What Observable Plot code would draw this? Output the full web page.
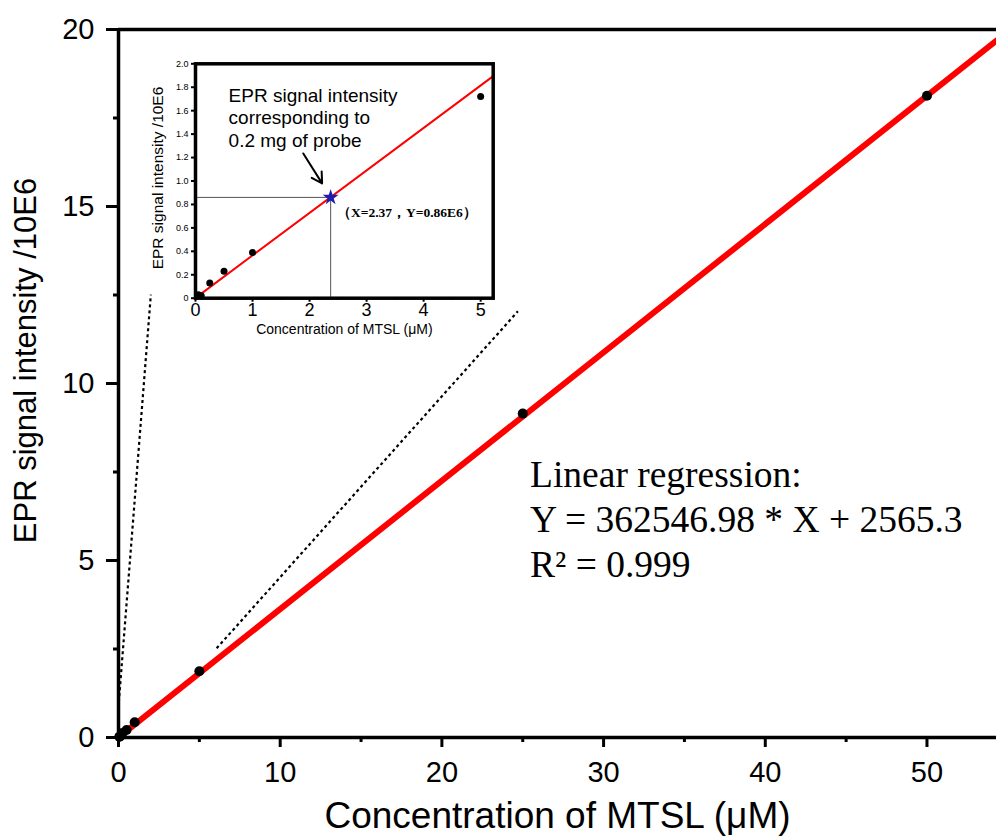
<!DOCTYPE html>
<html><head><meta charset="utf-8">
<script src="https://cdn.jsdelivr.net/npm/d3@7"></script>
<script src="https://cdn.jsdelivr.net/npm/@observablehq/plot@0.6"></script>
<style>
body{margin:0;background:#fff;}
#wrap{position:relative;width:996px;height:837px;overflow:hidden;background:#fff;}
#main{position:absolute;left:0;top:0;}
#inset{position:absolute;left:140px;top:55px;}
</style></head><body><div id="wrap"><div id="main"></div><div id="inset"></div></div>
<script>
// ---- data ----
const mainConc = [0.05, 0.1, 0.25, 0.5, 1, 5, 25, 50];
const mainIntensity = [0.02, 0.03, 0.13, 0.21, 0.43, 1.87, 9.15, 18.13];
const insetConc = [0.05, 0.1, 0.25, 0.5, 1, 5];
const insetIntensity = [0.03, 0.02, 0.13, 0.23, 0.39, 1.72];
const regSlope = 0.36254698;     // 362546.98 / 1E6
const regIntercept = 0.0025653;  // 2565.3 / 1E6
const mainXTicks = [0, 10, 20, 30, 40, 50];
const mainXMinor = [5, 15, 25, 35, 45];
const mainYTicks = [0, 5, 10, 15, 20];
const mainYMinor = [2.5, 7.5, 12.5, 17.5];
const insetXTicks = [0, 1, 2, 3, 4, 5];
const insetXMinor = [0.5, 1.5, 2.5, 3.5, 4.5];
const insetYTicks = [0, 0.2, 0.4, 0.6, 0.8, 1.0, 1.2, 1.4, 1.6, 1.8, 2.0];
const probeX = [2.37];
const probeY = [0.86];
const connectorX1 = [0.02, 6.07];
const connectorY1 = [1.0, 2.52];
const connectorX2 = [2.0, 24.7];
const connectorY2 = [12.51, 12.04];
const regressionText = ["Linear regression:", "Y = 362546.98 * X + 2565.3", "R\u00B2 = 0.999"];
const probeNote = "EPR signal intensity\ncorresponding to\n0.2 mg of probe";
const probeLabel = "\uFF08X=2.37\uFF0CY=0.86E6\uFF09";
const xLabel = "Concentration of MTSL (\u03BCM)";
const yLabel = "EPR signal intensity /10E6";

const sans = "'Liberation Sans', Arial, sans-serif";
const serif = "'Liberation Serif', 'Times New Roman', serif";

const mainPts = mainConc.map((c, i) => ({c, v: mainIntensity[i]}));
const insetPts = insetConc.map((c, i) => ({c, v: insetIntensity[i]}));
const connectors = connectorX1.map((x, i) => ({x1: x, y1: connectorY1[i], x2: connectorX2[i], y2: connectorY2[i]}));
const xMaxMain = 54.3;
const xMaxInset = 5.22;

const main = Plot.plot({
  width: 996, height: 837,
  marginLeft: 118, marginRight: 0, marginTop: 29, marginBottom: 100,
  x: {domain: [0, xMaxMain]},
  y: {domain: [0, 20]},
  style: {fontFamily: sans, background: "transparent", color: "black"},
  marks: [
    Plot.axisY({ticks: mainYMinor, tickSize: 5, strokeWidth: 3, text: null, label: null}),
    Plot.axisX({ticks: mainXMinor, tickSize: 5, strokeWidth: 3, text: null, label: null}),
    Plot.axisY({ticks: mainYTicks, tickSize: 12, strokeWidth: 3, tickPadding: 12, fontSize: 29, label: null, tickFormat: d => String(d)}),
    Plot.axisX({ticks: mainXTicks, tickSize: 10, strokeWidth: 3, tickPadding: 14, fontSize: 29, label: null, tickFormat: d => String(d)}),
    Plot.ruleY([0, 20], {stroke: "black", strokeWidth: 3.5}),
    Plot.ruleX([0], {stroke: "black", strokeWidth: 3.5}),
    Plot.link(connectors, {x1: "x1", y1: "y1", x2: "x2", y2: "y2", stroke: "black", strokeWidth: 2.2, strokeDasharray: "3,3"}),
    Plot.line([0, xMaxMain], {x: d => d, y: d => regSlope * d + regIntercept, stroke: "#ff0000", strokeWidth: 6}),
    Plot.dot(mainPts, {x: "c", y: "v", r: 5, fill: "black"}),
    Plot.text(regressionText, {x: 25.45, y: (d, i) => 7.07 - i * 1.27, text: d => d, textAnchor: "start", lineAnchor: "bottom", fontSize: 37.5, fontFamily: serif, fill: "black"}),
    Plot.text([yLabel], {frameAnchor: "left", dx: -92, dy: -23, rotate: -90, textAnchor: "middle", lineAnchor: "middle", fontSize: 31, text: d => d, fill: "black"}),
    Plot.text([xLabel], {frameAnchor: "bottom", dy: 79, fontSize: 37, text: d => d, textAnchor: "middle", lineAnchor: "middle", fill: "black"})
  ]
});
document.getElementById("main").appendChild(main);

const inset = Plot.plot({
  width: 370, height: 290,
  marginLeft: 55, marginRight: 17.3, marginTop: 8.3, marginBottom: 47.3,
  x: {domain: [0, xMaxInset]},
  y: {domain: [0, 2.0]},
  style: {fontFamily: sans, background: "transparent", color: "black"},
  marks: [
    Plot.frame({fill: "white", stroke: "none"}),
    Plot.axisX({ticks: insetXMinor, tickSize: 2, strokeWidth: 2, text: null, label: null}),
    Plot.axisY({ticks: insetYTicks, tickSize: 4, strokeWidth: 2, tickPadding: 3, fontSize: 9, label: null,
      tickFormat: d => d === 0 ? "0" : d3.format(".1f")(d)}),
    Plot.axisX({ticks: insetXTicks, tickSize: 4, strokeWidth: 2, tickPadding: 1, fontSize: 18, label: null, tickFormat: d => String(d)}),
    Plot.ruleY(probeY, {x1: 0, x2: probeX, stroke: "#555", strokeWidth: 1}),
    Plot.ruleX(probeX, {y1: 0, y2: probeY, stroke: "#555", strokeWidth: 1}),
    Plot.line([0.09, xMaxInset], {x: d => d, y: d => regSlope * d + regIntercept, stroke: "#ff0000", strokeWidth: 2}),
    Plot.dot(insetPts, {x: "c", y: "v", r: 3.5, fill: "black"}),
    Plot.dot(probeX, {x: d => d, y: (d, i) => probeY[i], symbol: "star", r: 5, fill: "#1c1cb0"}),
    Plot.text([probeNote], {x: 0.58, y: 1.815, text: d => d, textAnchor: "start", lineAnchor: "top", fontSize: 19, lineHeight: 1.2, fill: "black"}),
    Plot.arrow([0], {x1: 1.89, y1: 1.235, x2: 2.22, y2: 0.98, stroke: "black", strokeWidth: 2, headLength: 10}),
    Plot.text([probeLabel], {x: 2.48, y: 0.734, text: d => d, textAnchor: "start", fontFamily: serif, fontWeight: "bold", fontSize: 13.5, fill: "black"}),
    Plot.text([yLabel], {frameAnchor: "left", dx: -37, dy: -3, rotate: -90, textAnchor: "middle", lineAnchor: "middle", text: d => d, fontSize: 15.5, fill: "black"}),
    Plot.text([xLabel], {frameAnchor: "bottom", dy: 31, text: d => d, fontSize: 14, textAnchor: "middle", lineAnchor: "middle", fill: "black"}),
    Plot.frame({stroke: "black", strokeWidth: 3.5})
  ]
});
document.getElementById("inset").appendChild(inset);
</script></body></html>
